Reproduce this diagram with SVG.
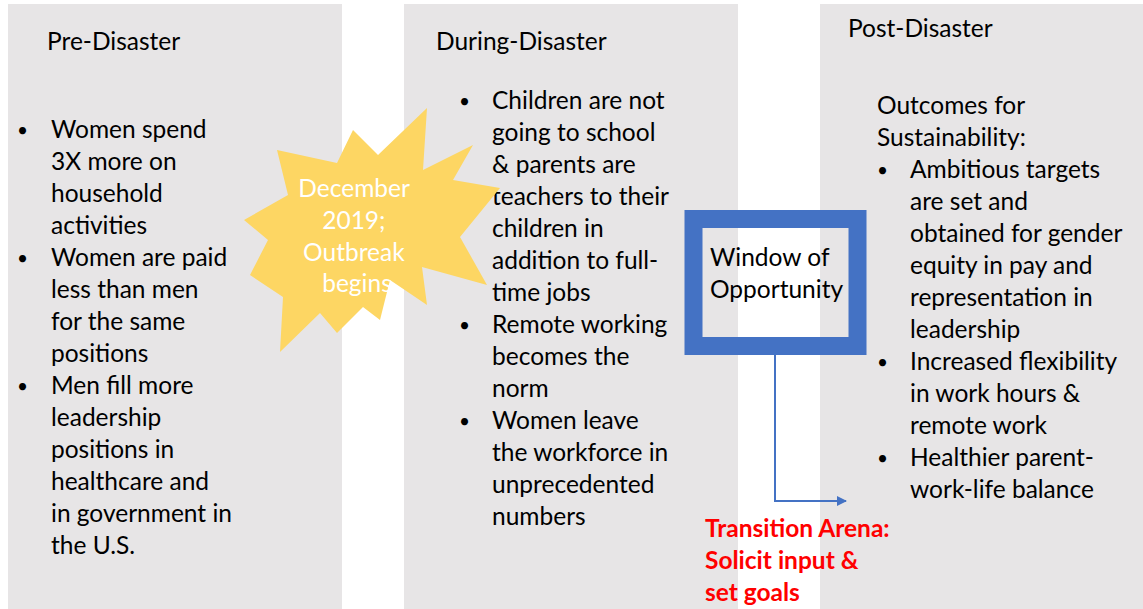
<svg xmlns="http://www.w3.org/2000/svg" width="1143" height="609" viewBox="0 0 1143 609">
  <defs>
    <style>
      .panel { fill: #e7e5e6; }
      .txt { font-family: Lato, "Open Sans", sans-serif; font-size: 24.5px; fill: #000000; }
      .bul { font-size: 19px; }
      .star-txt { font-family: Lato, "Open Sans", sans-serif; font-size: 24.5px; fill: #ffffff; text-anchor: middle; }
      .red { font-family: Lato, "Open Sans", sans-serif; font-size: 24.5px; font-weight: bold; fill: #ff0000; }
      .link { fill: none; stroke: #4472c4; stroke-width: 2; }
    </style>
    <marker id="arrow" viewBox="0 0 10 10" refX="9" refY="5" markerWidth="5" markerHeight="5" orient="auto" markerUnits="strokeWidth">
      <path d="M0,0 L10,5 L0,10 z" fill="#4472c4"/>
    </marker>
  </defs>

  <rect width="1143" height="609" fill="#ffffff"/>

  <!-- Pre-Disaster column -->
  <g id="pre-disaster">
    <rect class="panel" x="8" y="4" width="334" height="605"/>
    <text class="txt" x="47" y="50">Pre-Disaster</text>
    <text class="txt">
      <tspan class="bul" x="17" y="137">•</tspan><tspan x="51" y="138">Women spend</tspan>
      <tspan x="51" y="170">3X more on</tspan>
      <tspan x="51" y="202">household</tspan>
      <tspan x="51" y="234">activities</tspan>
      <tspan class="bul" x="17" y="265">•</tspan><tspan x="51" y="266">Women are paid</tspan>
      <tspan x="51" y="298">less than men</tspan>
      <tspan x="51" y="330">for the same</tspan>
      <tspan x="51" y="362">positions</tspan>
      <tspan class="bul" x="17" y="393">•</tspan><tspan x="51" y="394">Men fill more</tspan>
      <tspan x="51" y="426">leadership</tspan>
      <tspan x="51" y="458">positions in</tspan>
      <tspan x="51" y="490">healthcare and</tspan>
      <tspan x="51" y="522">in government in</tspan>
      <tspan x="51" y="554">the U.S.</tspan>
    </text>
  </g>

  <!-- During-Disaster column -->
  <g id="during-disaster">
    <rect class="panel" x="404" y="4" width="334" height="605"/>
    <text class="txt" x="436" y="50">During-Disaster</text>
    <text class="txt">
      <tspan class="bul" x="459" y="108">•</tspan><tspan x="492" y="109">Children are not</tspan>
      <tspan x="492" y="141">going to school</tspan>
      <tspan x="492" y="173">&amp; parents are</tspan>
      <tspan x="492" y="205">teachers to their</tspan>
      <tspan x="492" y="237">children in</tspan>
      <tspan x="492" y="269">addition to full-</tspan>
      <tspan x="492" y="301">time jobs</tspan>
      <tspan class="bul" x="459" y="332">•</tspan><tspan x="492" y="333">Remote working</tspan>
      <tspan x="492" y="365">becomes the</tspan>
      <tspan x="492" y="397">norm</tspan>
      <tspan class="bul" x="459" y="428">•</tspan><tspan x="492" y="429">Women leave</tspan>
      <tspan x="492" y="461">the workforce in</tspan>
      <tspan x="492" y="493">unprecedented</tspan>
      <tspan x="492" y="525">numbers</tspan>
    </text>
  </g>

  <!-- Post-Disaster column -->
  <g id="post-disaster">
    <rect class="panel" x="820" y="4" width="323" height="605"/>
    <text class="txt" x="848" y="37">Post-Disaster</text>
    <text class="txt">
      <tspan x="877" y="114">Outcomes for</tspan>
      <tspan x="877" y="146">Sustainability:</tspan>
      <tspan class="bul" x="877" y="177">•</tspan><tspan x="910" y="178">Ambitious targets</tspan>
      <tspan x="910" y="210">are set and</tspan>
      <tspan x="910" y="242">obtained for gender</tspan>
      <tspan x="910" y="274">equity in pay and</tspan>
      <tspan x="910" y="306">representation in</tspan>
      <tspan x="910" y="338">leadership</tspan>
      <tspan class="bul" x="877" y="369">•</tspan><tspan x="910" y="370">Increased flexibility</tspan>
      <tspan x="910" y="402">in work hours &amp;</tspan>
      <tspan x="910" y="434">remote work</tspan>
      <tspan class="bul" x="877" y="465">•</tspan><tspan x="910" y="466">Healthier parent-</tspan>
      <tspan x="910" y="498">work-life balance</tspan>
    </text>
  </g>

  <!-- Outbreak starburst -->
  <g id="outbreak">
    <polygon fill="#fdd663" points="427,108 378,155 353,130 337,163 277,150 288,195 244,220 268,240 250,275 283,297 280,352 320,313 337,333 363,307 380,320 390,280 427,305 422,267 487,285 460,237 500,188 453,180 473,145 423,170"/>
    <text class="star-txt">
      <tspan x="357" y="197">December</tspan>
      <tspan x="357" y="229">2019;</tspan>
      <tspan x="357" y="261">Outbreak</tspan>
      <tspan x="357" y="292">begins</tspan>
    </text>
  </g>

  <!-- Window of Opportunity frame -->
  <g id="window">
    <rect x="693.5" y="219" width="164" height="127" fill="none" stroke="#4472c4" stroke-width="18"/>
    <text class="txt">
      <tspan x="710" y="266">Window of</tspan>
      <tspan x="710" y="298">Opportunity</tspan>
    </text>
  </g>

  <!-- Transition arena label -->
  <g id="transition-arena">
    <text class="red">
      <tspan x="705" y="537">Transition Arena:</tspan>
      <tspan x="705" y="569">Solicit input &amp;</tspan>
      <tspan x="705" y="601">set goals</tspan>
    </text>
  </g>

  <!-- Connectors -->
  <g id="connectors">
    <path class="link" d="M775,355 V501 H846" marker-end="url(#arrow)"/>
  </g>
</svg>
